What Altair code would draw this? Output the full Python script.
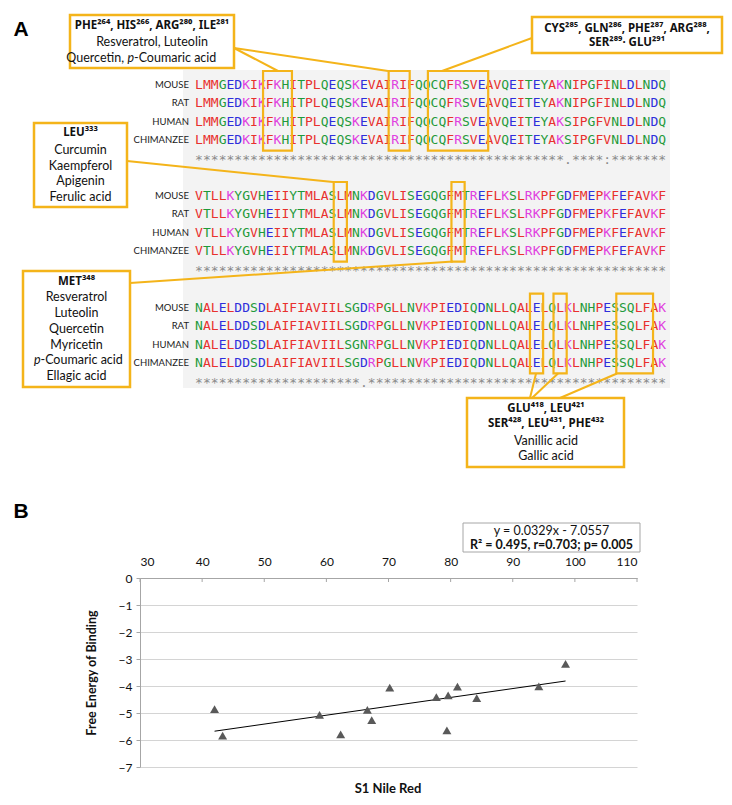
import altair as alt
import pandas as pd

# ----------------------------- DATA: panel A -----------------------------
SPECIES = ["MOUSE", "RAT", "HUMAN", "CHIMANZEE"]
BLOCK_START = [255, 315, 375]          # residue number of first column of each block
SEQ_BLOCKS = [
    ["LMMGEDKIKFKHITPLQEQSKEVAIRIFQQCQFRSVEAVQEITEYAKNIPGFINLDLNDQ",
     "LMMGEDKIKFKHITPLQEQSKEVAIRIFQQCQFRSVEAVQEITEYAKNIPGFINLDLNDQ",
     "LMMGEDKIKFKHITPLQEQSKEVAIRIFQQCQFRSVEAVQEITEYAKSIPGFVNLDLNDQ",
     "LMMGEDKIKFKHITPLQEQSKEVAIRIFQQCQFRSVEAVQEITEYAKSIPGFVNLDLNDQ"],
    ["VTLLKYGVHEIIYTMLASLMNKDGVLISEGQGFMTREFLKSLRKPFGDFMEPKFEFAVKF",
     "VTLLKYGVHEIIYTMLASLMNKDGVLISEGQGFMTREFLKSLRKPFGDFMEPKFEFAVKF",
     "VTLLKYGVHEIIYTMLASLMNKDGVLISEGQGFMTREFLKSLRKPFGDFMEPKFEFAVKF",
     "VTLLKYGVHEIIYTMLASLMNKDGVLISEGQGFMTREFLKSLRKPFGDFMEPKFEFAVKF"],
    ["NALELDDSDLAIFIAVIILSGDRPGLLNVKPIEDIQDNLLQALELQLKLNHPESSQLFAK",
     "NALELDDSDLAIFIAVIILSGDRPGLLNVKPIEDIQDNLLQALELQLKLNHPESSQLFAK",
     "NALELDDSDLAIFIAVIILSGNRPGLLNVKPIEDIQDNLLQALELQLKLNHPESSQLFAK",
     "NALELDDSDLAIFIAVIILSGDRPGLLNVKPIEDIQDNLLQALELQLKLNHPESSQLFAK"],
]
CONSERVATION = [
    "***********************************************.****:*******",
    "************************************************************",
    "*********************.**************************************",
]
# highlighted residue ranges (first, last residue number)
HIGHLIGHTS = [(264, 266), (280, 281), (285, 291), (333, 333), (348, 348),
              (418, 418), (421, 421), (429, 432)]

# ----------------------------- DATA: panel B -----------------------------
NILE_RED = [42.0, 43.3, 58.9, 62.3, 66.6, 67.3, 70.2, 77.7, 79.6, 79.4, 81.1, 84.2, 94.2, 98.5]
FREE_ENERGY = [-4.86, -5.84, -5.07, -5.79, -4.88, -5.26, -4.06, -4.41, -4.35, -5.64, -4.02,
               -4.45, -4.01, -3.18]
SLOPE, INTERCEPT = 0.0329, -7.0557
EQ_LINE1 = "y = 0.0329x - 7.0557"
EQ_LINE2 = "R² = 0.495, r=0.703; p= 0.005"
X_TICKS = list(range(30, 111, 10))
Y_TICKS = list(range(-7, 1))

# ----------------------------- STYLE / LAYOUT -----------------------------
ORANGE = "#F4B41A"
FONT = "Lato"
HFONT = "Noto Sans"
MONO = "DejaVu Sans Mono"
AA_COLORS = {"AVFPMILW": "#E8302E", "DE": "#2E2EDB", "RK": "#E03FE0", "STYHCNGQ": "#1F9A3A"}

PX_LEFT, PX_RIGHT = 140, 637     # page x of panel B plot area
A_TOP, A_BOTTOM = 8, 552
A_W = PX_RIGHT - PX_LEFT
A_H = A_BOTTOM - A_TOP
SEQ_X0, CHAR_W = 199.0, 7.85
BLOCK_Y = [85.0, 196.0, 307.7]
ROW_H = 18.4
STAR_DY = 1.5
LABEL_X = 189
BOX_TOP, BOX_BOT = 14, 10.5


def aa_color(ch):
    for k, v in AA_COLORS.items():
        if ch in k:
            return v
    return "#808080"


letters, stars, labels = [], [], []
for b, block in enumerate(SEQ_BLOCKS):
    for r, seq in enumerate(block):
        labels.append(dict(x=LABEL_X, y=BLOCK_Y[b] + r * ROW_H, t=SPECIES[r]))
        for c, ch in enumerate(seq):
            letters.append(dict(x=SEQ_X0 + c * CHAR_W, y=BLOCK_Y[b] + r * ROW_H, t=ch, col=aa_color(ch)))
    for c, ch in enumerate(CONSERVATION[b]):
        stars.append(dict(x=SEQ_X0 + c * CHAR_W, y=BLOCK_Y[b] + 4 * ROW_H + STAR_DY, t=ch))

hl = []
for a, z in HIGHLIGHTS:
    b = (a - BLOCK_START[0]) // 60
    c1, c2 = a - BLOCK_START[b], z - BLOCK_START[b]
    hl.append(dict(x=SEQ_X0 + (c1 - 0.84) * CHAR_W, x2=SEQ_X0 + (c2 + 0.84) * CHAR_W,
                   y=BLOCK_Y[b] - BOX_TOP, y2=BLOCK_Y[b] + 3 * ROW_H + BOX_BOT))

CALLOUT_BOXES = [
    dict(x=70, y=15, x2=234, y2=68),
    dict(x=532, y=17, x2=722, y2=53),
    dict(x=34, y=123, x2=127, y2=207),
    dict(x=23, y=271, x2=130, y2=387),
    dict(x=467, y=398, x2=624, y2=467),
]
CALLOUT_LINES = [
    dict(x=234, y=48, x2=278, y2=71),
    dict(x=234, y=48, x2=388, y2=71),
    dict(x=532, y=38, x2=442, y2=71),
    dict(x=127, y=161, x2=333, y2=182),
    dict(x=130, y=283, x2=453, y2=261.5),
    dict(x=530, y=398, x2=536, y2=373.5),
    dict(x=532, y=398, x2=558, y2=373.5),
    dict(x=560, y=398, x2=617, y2=373.5),
]
BOLD_TEXT = [
    (152, 26, "PHE²⁶⁴, HIS²⁶⁶, ARG²⁸⁰, ILE²⁸¹"),
    (627, 28.5, "CYS²⁸⁵, GLN²⁸⁶, PHE²⁸⁷, ARG²⁸⁸,"),
    (627, 43, "SER²⁸⁹· GLU²⁹¹"),
    (80.5, 133, "LEU³³³"),
    (76.5, 282, "MET³⁴⁸"),
    (546, 408.5, "GLU⁴¹⁸, LEU⁴²¹"),
    (546, 423.5, "SER⁴²⁸, LEU⁴³¹, PHE⁴³²"),
]
NORMAL_TEXT = [
    (152, 42, "Resveratrol, Luteolin"),
    (80.5, 150, "Curcumin"), (80.5, 165.5, "Kaempferol"), (80.5, 181, "Apigenin"),
    (80.5, 197, "Ferulic acid"),
    (76.5, 297, "Resveratrol"), (76.5, 312.5, "Luteolin"), (76.5, 328.5, "Quercetin"),
    (76.5, 344.5, "Myricetin"), (76.5, 376, "Ellagic acid"),
    (546, 441, "Vanillic acid"), (546, 456, "Gallic acid"),
]
RIGHT_TEXT = [(124, 57.5, "Quercetin,")]
ITALIC_TEXT = [(127.5, 57.5, "p"), (34, 360, "p")]
LEFT_TEXT = [(134, 57.5, "-Coumaric acid"), (40.5, 360, "-Coumaric acid")]

XA = alt.Scale(domain=[PX_LEFT, PX_RIGHT], nice=False, zero=False)
YA = alt.Scale(domain=[A_TOP, A_BOTTOM], nice=False, zero=False, reverse=True)


def ax(field="x"):
    return alt.X(f"{field}:Q", scale=XA, axis=None)


def ay(field="y"):
    return alt.Y(f"{field}:Q", scale=YA, axis=None)


def tdf(rows):
    return pd.DataFrame([dict(x=x, y=y, t=t) for x, y, t in rows])


def text_layer(df, **kw):
    return alt.Chart(df).mark_text(**kw).encode(x=ax(), y=ay(), text="t:N")


bg = alt.Chart(pd.DataFrame([dict(x=8, x2=724, y=A_TOP, y2=A_BOTTOM)])).mark_rect(
    fill="white").encode(x=ax(), x2="x2:Q", y=ay(), y2="y2:Q")
graybg = alt.Chart(pd.DataFrame([dict(x=183, x2=670, y=70, y2=388)])).mark_rect(
    fill="#f3f3f3").encode(x=ax(), x2="x2:Q", y=ay(), y2="y2:Q")

letters_l = alt.Chart(pd.DataFrame(letters)).mark_text(
    font=MONO, fontSize=13, baseline="middle", align="center").encode(
    x=ax(), y=ay(), text="t:N", color=alt.Color("col:N", scale=None))
stars_l = text_layer(pd.DataFrame(stars), font=MONO, fontSize=13, baseline="middle",
                     align="center", color="#8a8a8a")
labels_l = text_layer(pd.DataFrame(labels), font=FONT, fontSize=9.5, baseline="middle",
                      align="right", color="#222222")

hl_l = alt.Chart(pd.DataFrame(hl)).mark_rect(fill=None, stroke=ORANGE, strokeWidth=2.2).encode(
    x=ax(), x2="x2:Q", y=ay(), y2="y2:Q")
lines_l = alt.Chart(pd.DataFrame(CALLOUT_LINES)).mark_rule(color=ORANGE, strokeWidth=2).encode(
    x=ax(), x2="x2:Q", y=ay(), y2="y2:Q")
boxes_l = alt.Chart(pd.DataFrame(CALLOUT_BOXES)).mark_rect(
    fill="white", stroke=ORANGE, strokeWidth=2.5).encode(x=ax(), x2="x2:Q", y=ay(), y2="y2:Q")

bold_l = text_layer(tdf(BOLD_TEXT), font=HFONT, fontSize=11.5, fontWeight="bold",
                    baseline="middle", align="center", color="#111111")
norm_l = text_layer(tdf(NORMAL_TEXT), font=FONT, fontSize=12.5, baseline="middle",
                    align="center", color="#111111")
right_l = text_layer(tdf(RIGHT_TEXT), font=FONT, fontSize=12.5, baseline="middle",
                     align="right", color="#111111")
ital_l = text_layer(tdf(ITALIC_TEXT), font=FONT, fontSize=12.5, fontStyle="italic",
                    baseline="middle", align="left", color="#111111")
left_l = text_layer(tdf(LEFT_TEXT), font=FONT, fontSize=12.5, baseline="middle",
                    align="left", color="#111111")

panel_labels = text_layer(tdf([(21, 30, "A"), (21, 512, "B")]), font="Liberation Sans",
                          fontSize=21, fontWeight="bold", baseline="middle", align="center",
                          color="#000000")

eqbox = alt.Chart(pd.DataFrame([dict(x=463, x2=640, y=523, y2=552)])).mark_rect(
    fill="white", stroke="#a6a6a6", strokeWidth=1).encode(x=ax(), x2="x2:Q", y=ay(), y2="y2:Q")
eq1 = text_layer(tdf([(551.5, 531, EQ_LINE1)]), font=FONT, fontSize=12.5, baseline="middle",
                 align="center", color="#111111")
eq2 = text_layer(tdf([(551.5, 545, EQ_LINE2)]), font=FONT, fontSize=12.5, fontWeight="bold",
                 baseline="middle", align="center", color="#111111")

panelA = alt.layer(bg, graybg, letters_l, stars_l, labels_l, hl_l, lines_l, boxes_l,
                   bold_l, norm_l, right_l, ital_l, left_l, panel_labels,
                   eqbox, eq1, eq2).properties(width=A_W, height=A_H)

# ----------------------------- Panel B -----------------------------
pts = pd.DataFrame({"x": NILE_RED, "y": FREE_ENERGY})
xr = [min(NILE_RED), max(NILE_RED)]
trend = pd.DataFrame({"x": xr, "y": [SLOPE * v + INTERCEPT for v in xr]})

XB = alt.X("x:Q", scale=alt.Scale(domain=[30, 110], nice=False, zero=False),
           axis=alt.Axis(orient="top", values=X_TICKS, title=None, grid=False, ticks=False,
                         domain=True, domainColor="#a6a6a6", labelFont=FONT, labelFontSize=12,
                         labelColor="#111111", labelPadding=10))
YB = alt.Y("y:Q", scale=alt.Scale(domain=[-7, 0], nice=False, zero=False),
           axis=alt.Axis(values=Y_TICKS, title="Free Energy of Binding", grid=True,
                         gridColor="#d4d4d4", domainColor="#a6a6a6", tickColor="#a6a6a6",
                         tickSize=4, labelPadding=4, labelFont=FONT, labelFontSize=12,
                         labelColor="#111111", titleFont=FONT, titleFontSize=12.5,
                         titleFontWeight="bold", titleColor="#111111", titlePadding=20))

points_l = alt.Chart(pts).mark_point(shape="triangle-up", filled=True, size=80,
                                      color="#595959", opacity=1).encode(x=XB, y=YB)
trend_l = alt.Chart(trend).mark_line(color="black", strokeWidth=1).encode(x=XB, y=YB)
ticks_l = alt.Chart(pd.DataFrame({"x": X_TICKS})).mark_rule(color="#a6a6a6").encode(
    x=XB, y=alt.value(0), y2=alt.value(4))
xtitle_l = alt.Chart(pd.DataFrame({"t": ["S1 Nile Red"]})).mark_text(
    font=FONT, fontSize=13, fontWeight="bold", color="#111111", baseline="middle").encode(
    x=alt.value(248), y=alt.value(211), text="t:N")

panelB = alt.layer(ticks_l, trend_l, points_l, xtitle_l).properties(width=497, height=189)

chart = alt.vconcat(panelA, panelB, spacing=2).properties(
    padding=0, background="white").configure_view(stroke=None)

chart.save("out.html", embed_options={"renderer": "svg", "actions": False})
